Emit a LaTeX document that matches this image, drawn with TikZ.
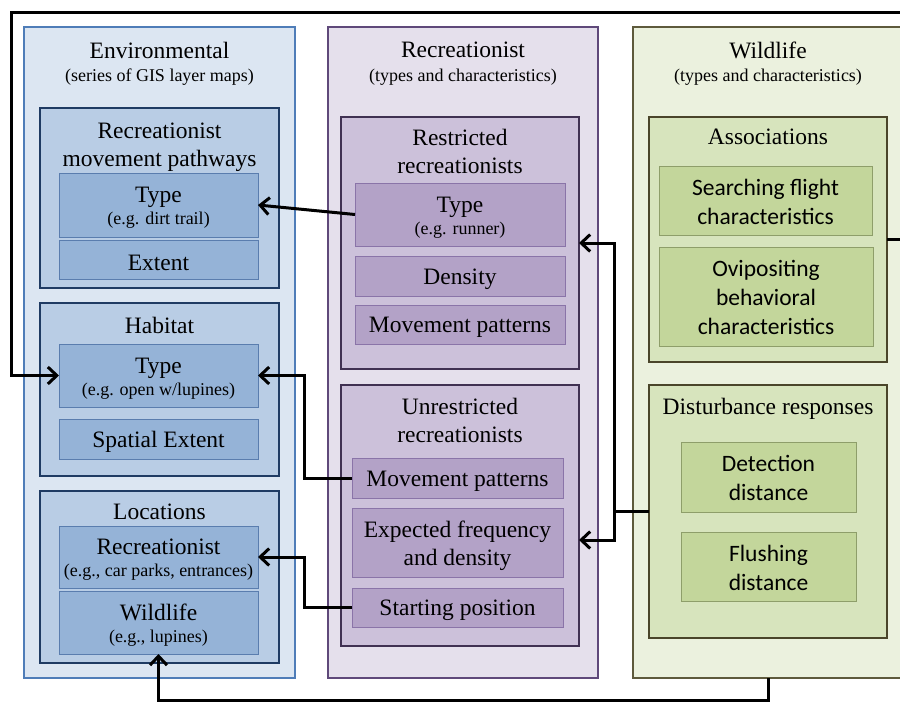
\documentclass[tikz,border=0pt]{standalone}
\usepackage{fontspec}
\setmainfont{Liberation Serif}
\newfontfamily\calfont{Carlito}
\usetikzlibrary{arrows.meta}
\definecolor{envA}{HTML}{DCE6F2}\definecolor{envAb}{HTML}{4F7DB8}
\definecolor{envB}{HTML}{B9CDE5}\definecolor{envBb}{HTML}{1F3B63}
\definecolor{envC}{HTML}{95B3D7}\definecolor{envCb}{HTML}{5A7DAE}
\definecolor{recA}{HTML}{E5E0EC}\definecolor{recAb}{HTML}{5F497A}
\definecolor{recB}{HTML}{CCC1DA}\definecolor{recBb}{HTML}{403152}
\definecolor{recC}{HTML}{B3A2C7}\definecolor{recCb}{HTML}{8A74A8}
\definecolor{wldA}{HTML}{EBF1DE}\definecolor{wldAb}{HTML}{5E5A3C}
\definecolor{wldB}{HTML}{D7E4BD}\definecolor{wldBb}{HTML}{4A452A}
\definecolor{wldC}{HTML}{C3D69B}\definecolor{wldCb}{HTML}{8E9E6A}
\newcommand\bx[6]{\node[#2, minimum width={#5-#3}, minimum height={#6-#4}] (#1) at ({(#3+#5)/2},{(#4+#6)/2}) {};}
% box with text: name, box style, text style, x1, y1, x2, y2, text
\newcommand\bxt[8]{\node[#2, minimum width={#6-#4}, minimum height={#7-#5}] (#1) at ({(#4+#6)/2},{(#5+#7)/2}) {};
  \node[#3] (#1-t) at (#1.center) {#8};}
\newcommand\smallf{\fontsize{18}{21}\selectfont}
\begin{document}
\begin{tikzpicture}[x=1pt,y=-1pt,
  box/.style={draw, rectangle, inner sep=0pt, outer sep=0pt},
  envout/.style={box, fill=envA, draw=envAb, line width=1.6pt},
  envmid/.style={box, fill=envB, draw=envBb, line width=2.2pt},
  envin/.style={box, fill=envC, draw=envCb, line width=0.9pt},
  recout/.style={box, fill=recA, draw=recAb, line width=1.6pt},
  recmid/.style={box, fill=recB, draw=recBb, line width=2.2pt},
  recin/.style={box, fill=recC, draw=recCb, line width=0.9pt},
  wldout/.style={box, fill=wldA, draw=wldAb, line width=1.6pt},
  wldmid/.style={box, fill=wldB, draw=wldBb, line width=2.2pt},
  wldin/.style={box, fill=wldC, draw=wldCb, line width=0.9pt},
  stxt/.style={inner sep=0pt, align=center, yshift=-3pt, font=\fontsize{23.5}{28}\selectfont},
  ctxt/.style={inner sep=0pt, align=center, yshift=-1pt, font=\calfont\fontsize{23.5}{29}\selectfont},
  big/.style={inner sep=0pt, align=center, font=\fontsize{23.5}{28}\selectfont},
  small/.style={inner sep=0pt, align=center, font=\smallf},
  conn/.style={line width=3pt, black, line join=miter},
  arr/.style={conn, -{Straight Barb[length=9pt,width=17pt]}}]
\useasboundingbox (0,0) rectangle (900,702);
\clip (0,0) rectangle (900,702);
\fill[white] (0,0) rectangle (900,702);
% Environmental column
\bx{env}{envout}{24}{27}{295}{678}
\node[big] (envT) at (159.5,50) {Environmental};
\node[small] (envS) at (159.5,77) {(series of GIS layer maps)};
\bx{rmp}{envmid}{40}{108}{279}{288}
\node[big] (rmpT) at (159.5,147) {Recreationist\\movement pathways};
\bxt{ttype}{envin}{stxt}{59}{173}{258}{237}{Type\\[-6pt]{\smallf (e.g. dirt trail)}}
\bxt{extent}{envin}{stxt}{59}{240}{258}{279}{Extent}
\bx{hab}{envmid}{40}{303}{279}{476}
\node[big] (habT) at (159.5,325) {Habitat};
\bxt{htype}{envin}{stxt}{59}{344}{258}{407}{Type\\[-6pt]{\smallf (e.g. open w/lupines)}}
\bxt{spext}{envin}{stxt}{59}{419}{258}{459}{Spatial Extent}
\bx{loc}{envmid}{40}{491}{279}{663}
\node[big] (locT) at (159.5,512) {Locations};
\bxt{lrec}{envin}{stxt}{59}{526}{258}{588}{Recreationist\\[-6pt]{\smallf (e.g., car parks, entrances)}}
\bxt{lwild}{envin}{stxt}{59}{591}{258}{654}{Wildlife\\[-6pt]{\smallf (e.g., lupines)}}
% Recreationist column
\bx{rec}{recout}{328}{27}{598}{678}
\node[big] (recT) at (463,50) {Recreationist};
\node[small] (recS) at (463,77) {(types and characteristics)};
\bx{restr}{recmid}{341}{117}{579}{369}
\node[big] (restrT) at (460,151) {Restricted\\recreationists};
\bxt{rtype}{recin}{stxt}{355}{183}{565}{246}{Type\\[-6pt]{\smallf (e.g. runner)}}
\bxt{dens}{recin}{stxt}{355}{256}{565}{296}{Density}
\bxt{rmov}{recin}{stxt}{355}{305}{565}{344}{Movement patterns}
\bx{unres}{recmid}{341}{385}{579}{646}
\node[big] (unresT) at (460,420) {Unrestricted\\recreationists};
\bxt{umov}{recin}{stxt}{352}{458}{563}{498}{Movement patterns}
\bxt{uexp}{recin}{stxt}{352}{508}{563}{577}{Expected frequency\\and density}
\bxt{ustart}{recin}{stxt}{352}{588}{563}{627}{Starting position}
% Wildlife column
\bx{wild}{wldout}{633}{27}{903}{678}
\node[big] (wildT) at (768,50) {Wildlife};
\node[small] (wildS) at (768,77) {(types and characteristics)};
\bx{assoc}{wldmid}{649}{117}{887}{362}
\node[big] (assocT) at (768,137) {Associations};
\bxt{search}{wldin}{ctxt}{659}{166}{872}{235}{Searching flight\\characteristics}
\bxt{ovi}{wldin}{ctxt}{659}{247}{873}{346}{Ovipositing\\behavioral\\characteristics}
\bx{dist}{wldmid}{649}{385}{887}{638}
\node[big] (distT) at (768,409) {Disturbance responses};
\bxt{detect}{wldin}{ctxt}{681}{442}{856}{512}{Detection\\distance}
\bxt{flush}{wldin}{ctxt}{681}{532}{856}{601}{Flushing\\distance}
% connectors
\coordinate (topleft) at (11,12.5);
\coordinate (topright) at (917,12.5);
\coordinate (split) at (614,511.5);
\coordinate (botline) at (0,700);
\draw[arr] (rtype.west) -- (ttype.east);
\draw[arr] (umov.west) -- ++(-48,0) |- (htype.east);
\draw[arr] (ustart.west) -- ++(-48,0) |- (lrec.east);
\draw[arr] (assoc.east) -| (topright) -- (topleft) |- (htype.west);
\draw[conn] (dist.west) -- (split);
\draw[arr] (split) |- (restr.east);
\draw[arr] (split) |- ([yshift=-24.5pt]unres.east);
\draw[arr] (wild.south) |- (lwild.south |- botline) -- (lwild.south);
\end{tikzpicture}
\end{document}
